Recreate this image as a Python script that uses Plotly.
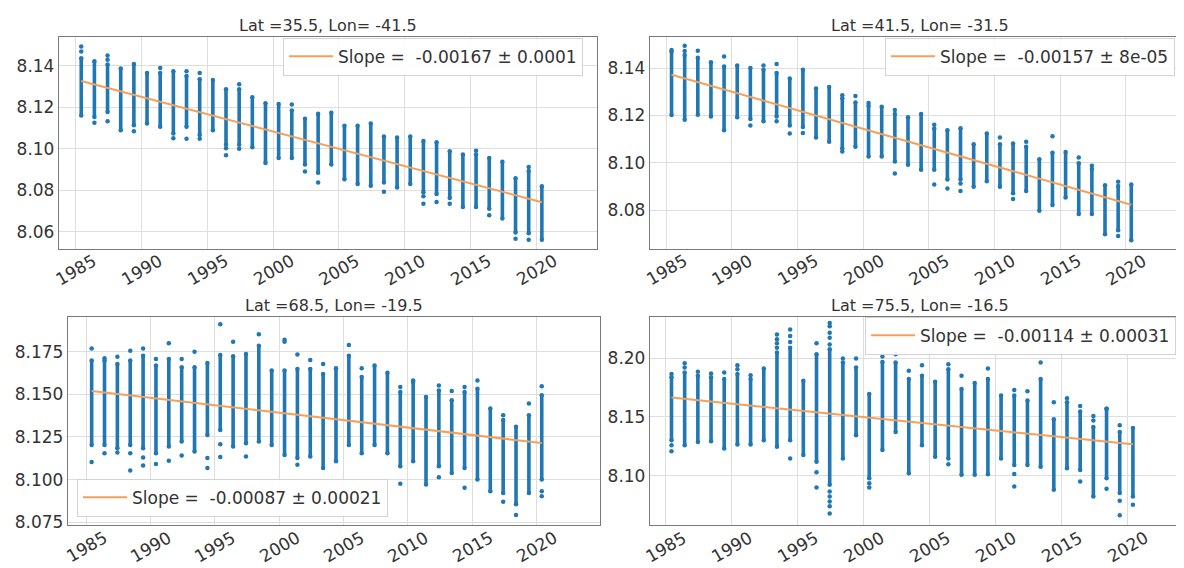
import plotly.graph_objects as go

# ---------------- data ----------------
YEARS = list(range(1985, 2021))
T_OFFSET = 0.42  # mid-year sampling time

TITLES = ["Lat =35.5, Lon= -41.5", "Lat =41.5, Lon= -31.5",
          "Lat =68.5, Lon= -19.5", "Lat =75.5, Lon= -16.5"]
SLOPES = [-0.00167, -0.00157, -0.00087, -0.00114]
SLOPE_ERR = ["0.0001", "8e-05", "0.00021", "0.00031"]
FIT_START = [8.1326, 8.1372, 8.1519, 8.1665]
X_TICKS = [1985, 1990, 1995, 2000, 2005, 2010, 2015, 2020]
Y_TICKS = [[8.06, 8.08, 8.10, 8.12, 8.14],
           [8.08, 8.10, 8.12, 8.14],
           [8.075, 8.100, 8.125, 8.150, 8.175],
           [8.10, 8.15, 8.20]]
Y_TICKFMT = [".2f", ".2f", ".3f", ".2f"]

# panel 1 : Lat 35.5, Lon -41.5
p1_hi = [8.1436, 8.1421, 8.1405, 8.1386, 8.1408, 8.1365, 8.1365, 8.1373, 8.1350, 8.1334, 8.1331, 8.1286,
         8.1286, 8.1247, 8.1219, 8.1215, 8.1184, 8.1144, 8.1168, 8.1173, 8.1110, 8.1110, 8.1121, 8.1058,
         8.1053, 8.1058, 8.1037, 8.1031, 8.0987, 8.0971, 8.0971, 8.0955, 8.0936, 8.0857, 8.0892, 8.0818]
p1_lo = [8.1160, 8.1152, 8.1176, 8.1089, 8.1113, 8.1121, 8.1105, 8.1073, 8.1105, 8.1065, 8.1089, 8.1018,
         8.1018, 8.1006, 8.0931, 8.0955, 8.0955, 8.0923, 8.0884, 8.0923, 8.0852, 8.0829, 8.0821, 8.0837,
         8.0813, 8.0829, 8.0789, 8.0781, 8.0762, 8.0718, 8.0718, 8.0710, 8.0663, 8.0595, 8.0592, 8.0560]
p1_out_year = [1985, 1985, 1986, 1987, 1987, 1987, 1989, 1991, 1992, 1993, 1993, 1994, 1994, 1996, 1996,
               1997, 1997, 2001, 2002, 2003, 2008, 2011, 2011, 2012, 2013, 2015, 2016, 2018, 2019, 2019]
p1_out_val = [8.1492, 8.1468, 8.1125, 8.1449, 8.1428, 8.1132, 8.1084, 8.1389, 8.1050, 8.1373, 8.1047,
              8.1365, 8.1047, 8.0968, 8.1002, 8.1310, 8.0999, 8.1212, 8.0889, 8.0837, 8.0792, 8.0770,
              8.0734, 8.0742, 8.0734, 8.0990, 8.0679, 8.0565, 8.0911, 8.0560]

# panel 2 : Lat 41.5, Lon -31.5
p2_hi = [8.1469, 8.1455, 8.1444, 8.1425, 8.1407, 8.1411, 8.1400, 8.1393, 8.1379, 8.1356, 8.1393, 8.1314,
         8.1320, 8.1272, 8.1254, 8.1241, 8.1236, 8.1206, 8.1192, 8.1206, 8.1144, 8.1137, 8.1146, 8.1078,
         8.1123, 8.1078, 8.1081, 8.1067, 8.1015, 8.1042, 8.1045, 8.0998, 8.0973, 8.0905, 8.0901, 8.0908]
p2_lo = [8.1202, 8.1181, 8.1203, 8.1195, 8.1137, 8.1192, 8.1185, 8.1175, 8.1195, 8.1157, 8.1151, 8.1106,
         8.1088, 8.1060, 8.1067, 8.1026, 8.1026, 8.1005, 8.0991, 8.0970, 8.0970, 8.0929, 8.0929, 8.0898,
         8.0922, 8.0898, 8.0871, 8.0880, 8.0797, 8.0821, 8.0853, 8.0783, 8.0783, 8.0697, 8.0714, 8.0672]
p2_out_year = [1985, 1986, 1986, 1987, 1989, 1991, 1992, 1993, 1993, 1994, 1995, 1998, 1998, 1999, 2000,
               2002, 2002, 2005, 2005, 2006, 2007, 2007, 2010, 2011, 2012, 2014, 2016, 2017, 2019, 2019]
p2_out_val = [8.1476, 8.1494, 8.1472, 8.1473, 8.1449, 8.1157, 8.1411, 8.1417, 8.1175, 8.1123, 8.1126,
              8.1285, 8.1047, 8.1282, 8.1252, 8.1223, 8.0954, 8.1160, 8.0908, 8.0891, 8.0912, 8.0880,
              8.1106, 8.0846, 8.1088, 8.1112, 8.1022, 8.0987, 8.0919, 8.0690]

# panel 3 : Lat 68.5, Lon -19.5
p3_hi = [8.1698, 8.1698, 8.1678, 8.1698, 8.1727, 8.1669, 8.1707, 8.1659, 8.1659, 8.1684, 8.1731, 8.1723,
         8.1736, 8.1785, 8.1640, 8.1640, 8.1649, 8.1649, 8.1620, 8.1653, 8.1727, 8.1601, 8.1669, 8.1626,
         8.1514, 8.1572, 8.1485, 8.1523, 8.1465, 8.1514, 8.1533, 8.1417, 8.1349, 8.1310, 8.1378, 8.1494]
p3_lo = [8.1203, 8.1203, 8.1184, 8.1203, 8.1184, 8.1155, 8.1194, 8.1223, 8.1165, 8.1262, 8.1291, 8.1194,
         8.1213, 8.1223, 8.1203, 8.1145, 8.1126, 8.1136, 8.1068, 8.1107, 8.1203, 8.1155, 8.1203, 8.1155,
         8.1078, 8.1107, 8.0971, 8.1078, 8.1039, 8.1068, 8.1000, 8.0932, 8.0922, 8.0855, 8.0922, 8.1000]
p3_out_year = [1985, 1985, 1986, 1986, 1987, 1987, 1988, 1988, 1988, 1989, 1989, 1989, 1990, 1990, 1991,
               1991, 1992, 1992, 1993, 1994, 1994, 1995, 1995, 1995, 1996, 1997, 1998, 2000, 2000, 2001,
               2001, 2002, 2003, 2005, 2006, 2009, 2009, 2010, 2012, 2012, 2013, 2014, 2014, 2015, 2017,
               2017, 2018, 2019, 2020, 2020, 2020]
p3_out_val = [8.1769, 8.1103, 8.1711, 8.1155, 8.1721, 8.1159, 8.1756, 8.1155, 8.1054, 8.1769, 8.1130,
              8.1083, 8.1707, 8.1091, 8.1800, 8.1110, 8.1707, 8.1141, 8.1750, 8.1126, 8.1068, 8.1911,
              8.1207, 8.1132, 8.1808, 8.1136, 8.1853, 8.1820, 8.1808, 8.1733, 8.1087, 8.1702, 8.1678,
              8.1789, 8.1653, 8.1543, 8.0975, 8.1581, 8.1552, 8.1014, 8.1519, 8.1543, 8.0952, 8.1581,
              8.1378, 8.0870, 8.0793, 8.1446, 8.1548, 8.0932, 8.0903]

# panel 4 : Lat 75.5, Lon -16.5
p4_hi = [8.1837, 8.1879, 8.1851, 8.1837, 8.1823, 8.1865, 8.1823, 8.1913, 8.2048, 8.2090, 8.1808, 8.2034,
         8.2076, 8.1963, 8.1921, 8.1696, 8.1969, 8.1963, 8.1823, 8.1851, 8.1800, 8.1907, 8.1738, 8.1789,
         8.1823, 8.1682, 8.1682, 8.1639, 8.1823, 8.1479, 8.1625, 8.1546, 8.1414, 8.1569, 8.1372, 8.1406]
p4_lo = [8.1301, 8.1259, 8.1287, 8.1293, 8.1231, 8.1265, 8.1265, 8.1301, 8.1245, 8.1301, 8.1175, 8.1118,
         8.0921, 8.1146, 8.1344, 8.0977, 8.1217, 8.1372, 8.1020, 8.1259, 8.1161, 8.1146, 8.1006, 8.1006,
         8.1011, 8.1146, 8.1090, 8.1090, 8.1076, 8.0879, 8.1062, 8.1048, 8.0822, 8.0977, 8.0851, 8.0822]
p4_out_year = [1985, 1985, 1985, 1986, 1986, 1987, 1988, 1989, 1990, 1990, 1991, 1993, 1993, 1993, 1993,
               1994, 1994, 1994, 1994, 1996, 1996, 1996, 1997, 1997, 1997, 1997, 1997, 1997, 1997, 1997,
               1997, 1997, 1998, 1999, 2000, 2000, 2001, 2002, 2003, 2004, 2006, 2006, 2007, 2009, 2011,
               2011, 2011, 2012, 2013, 2014, 2015, 2016, 2016, 2017, 2017, 2018, 2018, 2019, 2019, 2019,
               2020]
p4_out_val = [8.1865, 8.1259, 8.1208, 8.1958, 8.1921, 8.1885, 8.1870, 8.1879, 8.1941, 8.1907, 8.1856,
              8.2203, 8.2161, 8.2127, 8.2090, 8.2245, 8.2189, 8.2138, 8.1146, 8.2127, 8.1028, 8.0899,
              8.2301, 8.2273, 8.2217, 8.2175, 8.2118, 8.0865, 8.0822, 8.0780, 8.0738, 8.0676, 8.1997,
              8.1997, 8.0935, 8.0899, 8.2014, 8.2034, 8.1893, 8.1941, 8.1949, 8.1096, 8.1851, 8.1913,
              8.1730, 8.1014, 8.0907, 8.1718, 8.1963, 8.1625, 8.1659, 8.1592, 8.0949, 8.1507, 8.1470,
              8.1569, 8.0887, 8.1428, 8.0786, 8.0662, 8.0752]

# ---------------- layout constants ----------------
W, H = 1184, 568
BLUE = "#1f77b4"
ORANGE = "#f5a05a"
TXT = "#333333"
FONT = "DejaVu Sans"

# pixel boxes (left, right, top, bottom) of each axes frame
BOXES = [(51, 589, 29, 244), (642, 1182, 29, 244), (60, 592, 313, 524), (642, 1182, 313, 524)]
X_RANGES = [(1983.73, 2024.61), (1983.78, 2024.89), (1983.58, 2024.95), (1983.79, 2024.75)]
Y_RANGES = [(8.0518, 8.1540), (8.0637, 8.1533), (8.0736, 8.1956), (8.0582, 8.2355)]
LEGENDS = [dict(x=275 / W, y=1 - 30 / H, xanchor="left", yanchor="top"),
           dict(x=877 / W, y=1 - 30 / H, xanchor="left", yanchor="top"),
           dict(x=69 / W, y=1 - 516 / H, xanchor="left", yanchor="bottom"),
           dict(x=857 / W, y=1 - 313 / H, xanchor="left", yanchor="top")]

panels = [(p1_hi, p1_lo, p1_out_year, p1_out_val),
          (p2_hi, p2_lo, p2_out_year, p2_out_val),
          (p3_hi, p3_lo, p3_out_year, p3_out_val),
          (p4_hi, p4_lo, p4_out_year, p4_out_val)]

fig = go.Figure()
annotations = []
layout = dict(width=W, height=H, margin=dict(l=0, r=0, t=0, b=0),
              paper_bgcolor="white", plot_bgcolor="white",
              font=dict(family=FONT, color=TXT), showlegend=True)

for i, (hi, lo, oyear, oval) in enumerate(panels):
    n = "" if i == 0 else str(i + 1)
    xa, ya = "x" + n, "y" + n
    seg_x, seg_y = [], []
    for yr, l, h in zip(YEARS, lo, hi):
        t = yr + T_OFFSET
        seg_x += [t, t, None]
        seg_y += [l, h, None]
    fig.add_trace(go.Scatter(x=seg_x, y=seg_y, mode="lines+markers",
                             line=dict(color=BLUE, width=3.6),
                             marker=dict(color=BLUE, size=4.5),
                             xaxis=xa, yaxis=ya, showlegend=False, hoverinfo="skip"))
    fig.add_trace(go.Scatter(x=[y + T_OFFSET for y in oyear], y=oval, mode="markers",
                             marker=dict(color=BLUE, size=4.5),
                             xaxis=xa, yaxis=ya, showlegend=False, hoverinfo="skip"))
    x0, x1 = YEARS[0] + T_OFFSET, YEARS[-1] + T_OFFSET
    fy = [FIT_START[i], FIT_START[i] + SLOPES[i] * (x1 - x0)]
    leg = "legend" + n
    fig.add_trace(go.Scatter(x=[x0, x1], y=fy, mode="lines",
                             line=dict(color=ORANGE, width=2),
                             name=f"Slope =\u00a0 {SLOPES[i]} \u00b1 {SLOPE_ERR[i]}",
                             xaxis=xa, yaxis=ya, legend=leg, showlegend=True))

    l, r, t, b = BOXES[i]
    axis_common = dict(showline=True, mirror=True, linecolor="#7a7a7a", linewidth=1.3,
                       showgrid=True, gridcolor="#dedede", gridwidth=1.2,
                       zeroline=False, ticks="")
    layout["xaxis" + n] = dict(domain=[l / W, r / W], range=list(X_RANGES[i]), anchor=ya,
                               tickvals=X_TICKS, showticklabels=False, **axis_common)
    layout["yaxis" + n] = dict(domain=[1 - b / H, 1 - t / H], range=list(Y_RANGES[i]), anchor=xa,
                               tickvals=Y_TICKS[i], tickformat=Y_TICKFMT[i],
                               tickfont=dict(size=17, color=TXT, family=FONT), **axis_common)
    layout[leg] = dict(bgcolor="rgba(255,255,255,0.9)", bordercolor="#d3d3d3", borderwidth=1,
                       itemwidth=44, font=dict(size=17, color=TXT, family=FONT), **LEGENDS[i])
    # title
    annotations.append(dict(text=TITLES[i], x=(l + r) / 2 / W, y=1 - 18 / H if i < 2 else 1 - 302 / H,
                            xref="paper", yref="paper", showarrow=False,
                            xanchor="center", yanchor="middle",
                            font=dict(size=16, color=TXT, family=FONT)))
    # rotated x tick labels (centred, like matplotlib)
    shift = 21 if i < 2 else 22
    for tv in X_TICKS:
        annotations.append(dict(text=str(tv), x=tv, xref=xa, y=1 - b / H, yref="paper",
                                yshift=-shift, showarrow=False, textangle=-30,
                                xanchor="center", yanchor="middle",
                                font=dict(size=17, color=TXT, family=FONT)))

layout["annotations"] = annotations
fig.update_layout(**layout)
fig.write_html("out.html")
